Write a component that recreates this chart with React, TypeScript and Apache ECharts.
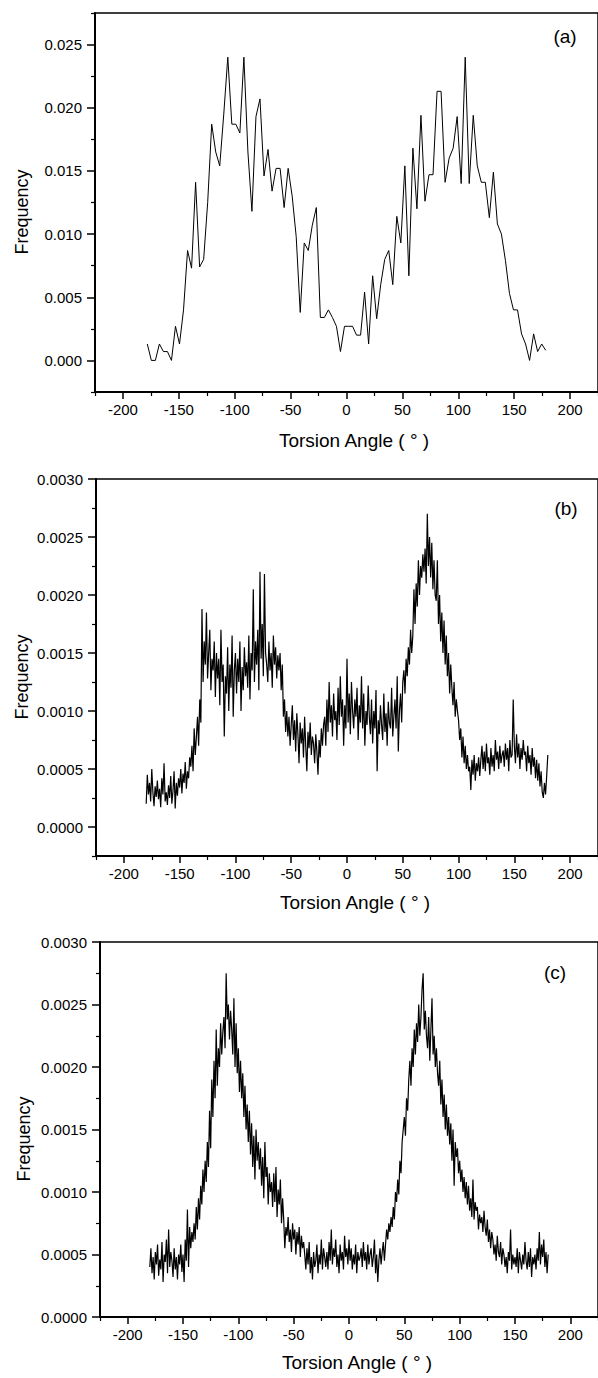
import React, { useEffect, useRef } from 'react';
import * as echarts from 'echarts';

// ---------- Data ----------
// Panel (a): histogram with 3.6° bins, first bin centre at -178.2°
const A_START = -178.2;
const A_STEP = 3.6;
const freqA = [
  0.0013, 0.0000, 0.0000, 0.0013, 0.0007, 0.0007, 0.0000, 0.0027, 0.0013, 0.0040,
  0.0087, 0.0073, 0.0141, 0.0074, 0.0080, 0.0125, 0.0187, 0.0165, 0.0154, 0.0195,
  0.0240, 0.0187, 0.0187, 0.0180, 0.0240, 0.0165, 0.0118, 0.0193, 0.0207, 0.0146,
  0.0167, 0.0134, 0.0152, 0.0152, 0.0121, 0.0152, 0.0130, 0.0098, 0.0038, 0.0093,
  0.0087, 0.0107, 0.0121, 0.0034, 0.0034, 0.0040, 0.0034, 0.0027, 0.0007, 0.0027,
  0.0027, 0.0027, 0.0020, 0.0020, 0.0054, 0.0013, 0.0067, 0.0033, 0.0060, 0.0080,
  0.0087, 0.0060, 0.0114, 0.0093, 0.0154, 0.0067, 0.0168, 0.0120, 0.0194, 0.0126,
  0.0147, 0.0147, 0.0213, 0.0213, 0.0141, 0.0160, 0.0168, 0.0193, 0.0140, 0.0240,
  0.0140, 0.0194, 0.0154, 0.0141, 0.0141, 0.0113, 0.0149, 0.0108, 0.0100, 0.0079,
  0.0053, 0.0040, 0.0040, 0.0021, 0.0013, 0.0000, 0.0021, 0.0007, 0.0013, 0.0008,
];

// Panels (b) and (c): 1° bins from -180° to 180°, values in units of 1e-5
const DENSE_START = -180;
const DENSE_STEP = 1;
const FREQ_UNIT = 1e-5;
const freqB = [
  20, 45, 28, 38, 22, 50, 30, 18, 35, 26,
  40, 24, 33, 17, 42, 28, 55, 22, 30, 19,
  36, 25, 44, 20, 31, 48, 16, 38, 27, 42,
  34, 50, 29, 46, 38, 56, 33, 48, 42, 60,
  52, 70, 48, 85, 62, 78, 95, 70, 110, 90,
  188, 125, 160, 140, 185, 128, 150, 170, 118, 145,
  135, 160, 112, 150, 128, 145, 105, 170, 125, 140,
  78, 130, 115, 155, 100, 140, 120, 165, 95, 135,
  150, 115, 145, 125, 160, 100, 138, 118, 155, 130,
  142, 120, 165, 110, 150, 135, 205, 125, 160, 140,
  170, 118, 220, 145, 175, 130, 218, 150, 140, 125,
  160, 135, 150, 120, 165, 140, 155, 128, 148, 135,
  150, 118, 140, 95, 110, 82, 100, 78, 95, 70,
  88, 105, 75, 92, 65, 98, 80, 55, 90, 72,
  85, 60, 95, 70, 48, 82, 68, 90, 62, 78,
  72, 55, 80, 65, 45, 75, 60, 85, 70, 88,
  95, 70, 110, 82, 125, 90, 105, 78, 115, 92,
  100, 75, 120, 88, 130, 95, 110, 70, 105, 85,
  145, 90, 115, 80, 125, 100, 85, 110, 95, 120,
  75, 105, 90, 130, 85, 115, 70, 100, 88, 122,
  95, 80, 110, 72, 100, 85, 118, 48, 92, 80,
  105, 88, 75, 115, 82, 98, 70, 108, 90, 85,
  120, 78, 95, 110, 85, 130, 65, 100, 115, 90,
  125, 135, 115, 145, 130, 155, 140, 170, 150, 165,
  205, 175, 210, 190, 230, 200, 225, 215, 235, 220,
  240, 210, 270, 225, 250, 215, 245, 205, 230, 200,
  195, 230, 175, 200, 160, 185, 150, 178, 140, 165,
  130, 150, 115, 140, 120, 105, 125, 95, 110, 100,
  92, 75, 85, 60, 78, 55, 70, 50, 62, 48,
  52, 32, 58, 45, 62, 40, 55, 48, 60, 44,
  58, 70, 50, 65, 48, 72, 55, 60, 45, 68,
  52, 62, 48, 75, 58, 65, 50, 70, 55, 62,
  66, 52, 72, 58, 68, 48, 75, 60, 62, 110,
  70, 55, 80, 60, 72, 50, 68, 58, 75, 62,
  65, 48, 70, 55, 62, 45, 68, 52, 60, 42,
  58, 40, 55, 35, 48, 30, 25, 38, 28, 44,
  62,
];
const freqC = [
  40, 55, 35, 48, 30, 52, 42, 58, 33, 46,
  38, 60, 28, 50, 44, 62, 35, 70, 40, 52,
  45, 32, 55, 38, 48, 30, 50, 42, 58, 36,
  50, 28, 62, 45, 86, 40, 72, 55, 68, 60,
  75, 62, 88, 70, 95, 78, 105, 90, 118, 100,
  125, 108, 140, 120, 165, 135, 190, 160, 205, 175,
  230, 185, 215, 200, 235, 210, 228, 240, 215, 275,
  238, 250, 222, 245, 230, 210, 255, 200, 235, 195,
  215, 180, 205, 175, 195, 160, 185, 150, 170, 140,
  165, 130, 155, 120, 145, 110, 150, 125, 140, 118,
  135, 105, 128, 95, 140, 112, 120, 90, 115, 100,
  108, 88, 115, 92, 120, 80, 102, 90, 110, 75,
  95, 78, 55, 72, 65, 80, 60, 70, 52, 75,
  62, 70, 50, 68, 58, 72, 48, 65, 55, 60,
  50, 38, 55, 42, 60, 35, 48, 30, 52, 40,
  45, 58, 35, 50, 42, 62, 38, 55, 48, 40,
  52, 38, 60, 45, 70, 42, 55, 48, 62, 40,
  50, 35, 58, 45, 52, 38, 65, 48, 55, 42,
  62, 45, 55, 38, 50, 42, 58, 35, 52, 45,
  48, 55, 40, 60, 45, 52, 38, 58, 42, 50,
  55, 40, 48, 62, 35, 50, 28, 45, 55, 42,
  52, 60, 45, 58, 70, 62, 75, 68, 80, 72,
  88, 78, 100, 92, 110, 98, 125, 115, 140, 150,
  160, 145, 175, 165, 190, 205, 185, 215, 200, 230,
  210, 235, 220, 250, 225, 240, 262, 275, 230, 245,
  225, 215, 240, 205, 230, 255, 210, 225, 200, 215,
  195, 185, 205, 170, 190, 160, 178, 150, 170, 145,
  160, 138, 155, 125, 150, 105, 140, 128, 135, 115,
  125, 108, 118, 100, 112, 95, 108, 90, 105, 85,
  95, 80, 110, 78, 92, 85, 88, 70, 82, 75,
  80, 68, 85, 72, 65, 78, 60, 70, 55, 68,
  62, 50, 58, 45, 65, 52, 48, 60, 42, 55,
  50, 40, 48, 35, 52, 45, 70, 38, 50, 42,
  48, 40, 55, 35, 52, 45, 38, 50, 42, 60,
  45, 38, 52, 40, 55, 32, 48, 42, 50, 38,
  55, 45, 68, 42, 58, 48, 62, 40, 52, 35,
  50,
];

// Tick values
const X_MAJOR = [-200, -150, -100, -50, 0, 50, 100, 150, 200];
const X_MINOR = [-225, -175, -125, -75, -25, 25, 75, 125, 175, 225];
const YA_MAJOR = [0, 0.005, 0.01, 0.015, 0.02, 0.025];
const YA_MINOR = [-0.0025, 0.0025, 0.0075, 0.0125, 0.0175, 0.0225, 0.0275];
const YB_MAJOR = [0, 0.0005, 0.001, 0.0015, 0.002, 0.0025, 0.003];
const YB_MINOR = [-0.00025, 0.00025, 0.00075, 0.00125, 0.00175, 0.00225, 0.00275];
const YC_MINOR = [0.00025, 0.00075, 0.00125, 0.00175, 0.00225, 0.00275];

const X_TITLE = 'Torsion Angle ( ° )';
const Y_TITLE = 'Frequency';
const PANEL_LABELS = ['(a)', '(b)', '(c)'];

const FONT = '"Liberation Sans", Arial, Helvetica, sans-serif';

const seriesA = freqA.map((v, i) => [A_START + A_STEP * i, v]);
const seriesB = freqB.map((v, i) => [DENSE_START + DENSE_STEP * i, v * FREQ_UNIT]);
const seriesC = freqC.map((v, i) => [DENSE_START + DENSE_STEP * i, v * FREQ_UNIT]);

function xAxesFor(gridIndex: number) {
  return [
    {
      type: 'value', gridIndex, min: -225, max: 225, position: 'bottom',
      axisLine: { show: true, onZero: false, lineStyle: { color: '#000', width: 2 } },
      axisTick: { show: true, inside: false, length: 7, customValues: X_MAJOR, lineStyle: { color: '#000', width: 1.5 } },
      axisLabel: { show: true, customValues: X_MAJOR, margin: 10, fontSize: 15, color: '#000', fontFamily: FONT, formatter: (v: number) => String(v) },
      splitLine: { show: false },
    },
    {
      type: 'value', gridIndex, min: -225, max: 225, position: 'bottom',
      axisLine: { show: false, onZero: false },
      axisTick: { show: true, inside: false, length: 4, customValues: X_MINOR, lineStyle: { color: '#000', width: 1.2 } },
      axisLabel: { show: false },
      splitLine: { show: false },
    },
  ];
}

function yAxesFor(gridIndex: number, min: number, max: number, major: number[], minor: number[], digits: number) {
  return [
    {
      type: 'value', gridIndex, min, max, position: 'left',
      axisLine: { show: true, onZero: false, lineStyle: { color: '#000', width: 2 } },
      axisTick: { show: true, inside: false, length: 8, customValues: major, lineStyle: { color: '#000', width: 1.5 } },
      axisLabel: { show: true, customValues: major, margin: 13, fontSize: 15, color: '#000', fontFamily: FONT, formatter: (v: number) => v.toFixed(digits) },
      splitLine: { show: false },
    },
    {
      type: 'value', gridIndex, min, max, position: 'left',
      axisLine: { show: false, onZero: false },
      axisTick: { show: true, inside: false, length: 4, customValues: minor, lineStyle: { color: '#000', width: 1.2 } },
      axisLabel: { show: false },
      splitLine: { show: false },
    },
  ];
}

function textEl(text: string, x: number, y: number, size: number, rotation = 0) {
  return {
    type: 'text', x, y, rotation, silent: true,
    style: { text, fill: '#000', font: `${size}px ${FONT}`, align: 'center', verticalAlign: 'middle' },
  };
}

export default function App() {
  const ref = useRef<HTMLDivElement>(null);
  useEffect(() => {
    if (!ref.current) return;
    const chart = echarts.init(ref.current, undefined, { renderer: 'svg' });
    const lineStyleThin = { color: '#000', width: 1 };
    const lineStyleDense = { color: '#000', width: 1.2 };
    chart.setOption({
      animation: false,
      backgroundColor: '#fff',
      grid: [
        { left: 95, top: 13, width: 510, height: 379, show: true, borderColor: '#000', borderWidth: 1.5, backgroundColor: 'transparent' },
        { left: 96, top: 479, width: 510, height: 377, show: true, borderColor: '#000', borderWidth: 1.5, backgroundColor: 'transparent' },
        { left: 100, top: 942, width: 510, height: 375, show: true, borderColor: '#000', borderWidth: 1.5, backgroundColor: 'transparent' },
      ],
      xAxis: [...xAxesFor(0), ...xAxesFor(1), ...xAxesFor(2)],
      yAxis: [
        ...yAxesFor(0, -0.0025, 0.0275, YA_MAJOR, YA_MINOR, 3),
        ...yAxesFor(1, -0.00025, 0.003, YB_MAJOR, YB_MINOR, 4),
        ...yAxesFor(2, 0, 0.003, YB_MAJOR, YC_MINOR, 4),
      ],
      series: [
        { type: 'line', xAxisIndex: 0, yAxisIndex: 0, data: seriesA, showSymbol: false, symbol: 'none', lineStyle: lineStyleThin, silent: true },
        { type: 'line', xAxisIndex: 2, yAxisIndex: 2, data: seriesB, showSymbol: false, symbol: 'none', lineStyle: lineStyleDense, silent: true },
        { type: 'line', xAxisIndex: 4, yAxisIndex: 4, data: seriesC, showSymbol: false, symbol: 'none', lineStyle: lineStyleDense, silent: true },
      ],
      graphic: [
        textEl(Y_TITLE, 22, 212, 18, Math.PI / 2),
        textEl(Y_TITLE, 22, 677, 18, Math.PI / 2),
        textEl(Y_TITLE, 24, 1139, 18, Math.PI / 2),
        textEl(X_TITLE, 354, 440, 19),
        textEl(X_TITLE, 355, 902, 19),
        textEl(X_TITLE, 357, 1362, 19),
        textEl(PANEL_LABELS[0], 565, 36, 19),
        textEl(PANEL_LABELS[1], 566, 508, 19),
        textEl(PANEL_LABELS[2], 555, 972, 19),
      ],
    });
    return () => chart.dispose();
  }, []);
  return (
    <div
      ref={ref}
      style={{ position: 'absolute', left: 0, top: 0, width: 598, height: 1378, overflow: 'hidden', background: '#fff' }}
    />
  );
}
